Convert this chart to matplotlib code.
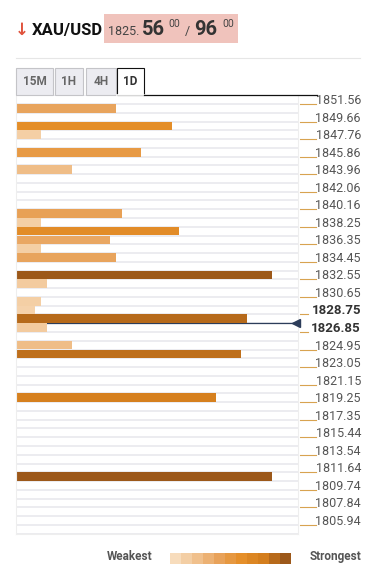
import numpy as np
import matplotlib
matplotlib.use("Agg")
import matplotlib.pyplot as plt
from matplotlib.colors import LinearSegmentedColormap
from matplotlib.patches import Rectangle
from matplotlib.lines import Line2D

plt.rcParams['font.family'] = ['Roboto', 'DejaVu Sans']

# price levels shown on the right, top to bottom
tick_labels = ['1851.56', '1849.66', '1847.76', '1845.86', '1843.96', '1842.06',
               '1840.16', '1838.25', '1836.35', '1834.45', '1832.55', '1830.65',
               '1828.75', '1826.85', '1824.95', '1823.05', '1821.15', '1819.25',
               '1817.35', '1815.44', '1813.54', '1811.64', '1809.74', '1807.84',
               '1805.94']
bold_labels = ['1828.75', '1826.85']

# confluence bars: half-step slot (0 = top) and strength
bar_slot = [0, 2, 3, 5, 7, 12, 13, 14, 15, 16, 17, 19, 20, 22, 23, 24, 25, 27, 28, 33, 42]
bar_strength = [16, 25, 4, 20, 9, 17, 4, 26, 15, 4, 16, 41, 5, 4, 3, 37, 5, 9, 36, 32, 41]
max_strength = 41

price_slot = 24.5  # current price marker position
tabs = ['15M', '1H', '4H', '1D']

W, H = 380, 585
fig = plt.figure(figsize=(W / 100, H / 100), dpi=100)


def fx(x):
    return x / W


def fy(y):
    return 1 - y / H


cmap = LinearSegmentedColormap.from_list(
    'conf', ['#f7dcbc', '#f0c08c', '#e8a25a', '#e58f2a', '#d47e1d', '#9c581a'])

# --- header ---
fig.text(fx(15), fy(35), '\u2193', color='#e0533d', fontsize=12, fontweight='bold',
         family=['DejaVu Sans'], va='baseline')
fig.text(fx(32), fy(35), 'XAU/USD', color='#111111', fontsize=12, fontweight='bold', va='baseline')
fig.patches.append(Rectangle((fx(104), fy(43)), fx(134), 29 / H, transform=fig.transFigure,
                             facecolor='#f0c3bc', edgecolor='none'))
fig.text(fx(108), fy(35), '1825.', color='#444444', fontsize=9, va='baseline')
fig.text(fx(142), fy(35), '56', color='#333333', fontsize=14.5, fontweight='bold', va='baseline')
fig.text(fx(168), fy(27), '00', color='#444444', fontsize=7.5, va='baseline')
fig.text(fx(185), fy(35), '/', color='#444444', fontsize=9, va='baseline')
fig.text(fx(194), fy(35), '96', color='#333333', fontsize=14.5, fontweight='bold', va='baseline')
fig.text(fx(222), fy(27), '00', color='#444444', fontsize=7.5, va='baseline')
fig.lines.append(Line2D([fx(16), fx(360)], [fy(58), fy(58)], transform=fig.transFigure,
                        color='#e6e6e6', lw=0.8))

# --- tabs ---
tab_x = [(16, 53), (55, 83), (86, 116), (117, 144)]
for name, (x0, x1) in zip(tabs, tab_x):
    active = name == '1D'
    fig.patches.append(Rectangle((fx(x0), fy(95)), fx(x1 - x0), 27 / H, transform=fig.transFigure,
                                 facecolor='white' if active else '#ececf1',
                                 edgecolor='#111111' if active else '#c4c4c8', lw=0.8))
    fig.text(fx((x0 + x1) / 2), fy(82), name, ha='center', va='center', fontsize=8.5,
             fontweight='bold', color='#333333' if active else '#666666')
fig.lines.append(Line2D([fx(117), fx(144)], [fy(95), fy(95)], transform=fig.transFigure,
                        color='white', lw=1.2))
fig.lines.append(Line2D([fx(144), fx(317)], [fy(95), fy(95)], transform=fig.transFigure,
                        color='#111111', lw=0.9))

# --- main chart ---
n_slots = 2 * len(tick_labels) - 1
ax = fig.add_axes([fx(16), fy(533.7), fx(282), 438.5 / H])
ax.set_xlim(0, 45.1)
ax.set_ylim(n_slots - 0.5, -1.5)
for k in range(-1, n_slots + 1):
    ax.axhline(k - 0.5, color='#ececf0', lw=1.4, zorder=0)

colors = [cmap(s / max_strength) for s in bar_strength]
ax.barh(bar_slot, bar_strength, height=0.99, color=colors, zorder=2)

ax.plot([0, 45.1], [price_slot, price_slot], color='#2c3d5a', lw=0.9, zorder=1)
ax.plot([44.85], [price_slot], marker='<', color='#2c3d5a', markersize=6, clip_on=False, zorder=3)

ax.set_xticks([])
ax.set_yticks([])
for side in ['left', 'right', 'bottom']:
    ax.spines[side].set_color('#eeeeee')
ax.spines['top'].set_visible(False)

# right-hand price labels
for k, lab in enumerate(tick_labels):
    y = 2 * k - 0.5
    is_bold = lab in bold_labels
    ax.annotate(lab, xy=(1, y), xycoords=('axes fraction', 'data'),
                xytext=(63, 0), textcoords='offset pixels', ha='right', va='baseline',
                fontsize=9.5 if is_bold else 9, fontweight='bold' if is_bold else 'normal',
                color='#333333' if is_bold else '#555555', annotation_clip=False)
    x_end = 10 if is_bold else 18
    ax.plot([45.1 * (1 + 2 / 282), 45.1 * (1 + x_end / 282)], [y, y], color='#d8a350',
            lw=0.8, clip_on=False)

# --- legend ---
fig.text(fx(152), fy(560), 'Weakest', ha='right', va='baseline', fontsize=8.5,
         fontweight='bold', color='#555555')
fig.text(fx(361), fy(560), 'Strongest', ha='right', va='baseline', fontsize=8.5,
         fontweight='bold', color='#555555')
lax = fig.add_axes([fx(170), fy(564), fx(121), 11 / H])
lax.imshow(cmap(np.linspace(0, 1, 11))[None, :, :], aspect='auto')
lax.axis('off')

fig.savefig('out.png', dpi=100, facecolor='white')
